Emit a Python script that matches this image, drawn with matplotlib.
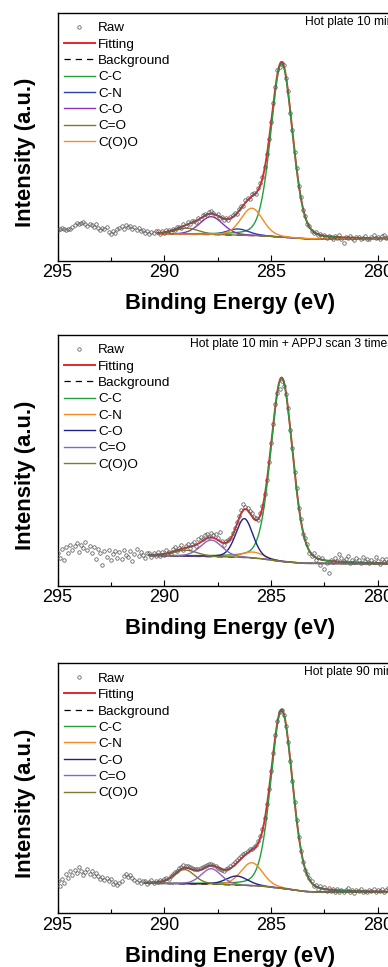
import numpy as np
import matplotlib
matplotlib.use('Agg')
import matplotlib.pyplot as plt
from matplotlib.ticker import MultipleLocator

plt.rcParams['font.family'] = ['Liberation Sans', 'DejaVu Sans']

# binding energy grid of the raw spectra, 295.0 ... 279.5 eV in 0.1 eV steps
energy = np.round(np.arange(2950, 2794, -1) / 10, 1)

# raw intensities (a.u.)
raw1 = [12.6, 12.9, 13.2, 12.7, 12.4, 13.0, 12.8, 13.9, 14.6, 15.2,
        14.8, 15.4, 15.6, 15.1, 14.3, 15.0, 14.6, 13.8, 14.9, 13.5,
        12.6, 13.4, 12.9, 13.7, 11.6, 10.9, 12.2, 11.4, 12.8, 13.5,
        14.2, 13.1, 14.6, 13.9, 14.1, 12.8, 13.6, 12.5, 13.3, 11.9,
        12.4, 11.3, 12.2, 11.0, 11.8, 11.3, 12.0,
        11.9, 11.0, 12.1, 11.2, 12.3, 12.6, 11.7, 13.0, 12.5, 13.8,
        13.9, 13.2, 14.9, 14.2, 15.6, 14.8, 16.1, 16.3, 15.8, 17.3,
        17.0, 18.4, 18.9, 18.5, 19.8, 20.3, 19.4, 18.2, 18.9, 17.4,
        17.9, 16.6, 17.2, 16.4, 17.8, 18.6, 19.2, 19.0, 21.1, 22.0,
        22.1, 24.5, 25.4, 25.0, 26.9, 27.6, 27.1, 29.6, 31.4, 34.0,
        37.8, 43.3, 49.0, 56.2, 63.5, 70.1, 76.9, 78.3, 80.0, 78.9,
        73.6, 68.5, 59.8, 52.9, 44.0, 37.6, 30.2, 25.8, 20.6, 18.2,
        15.0, 14.3, 12.1, 11.4, 11.6, 10.3, 10.9, 9.8, 10.6, 9.4,
        10.2, 9.6, 9.0, 10.1, 9.3, 10.4, 9.0, 7.1, 9.8, 9.1,
        10.2, 9.4, 8.6, 9.7, 9.8, 8.9, 9.3, 10.1, 9.0, 8.7,
        9.5, 10.4, 9.2, 9.6, 8.8, 9.9, 10.5, 9.3, 9.7]

raw2 = [13.1, 11.2, 14.6, 10.4, 15.3, 13.0, 16.2, 14.1, 15.8, 17.0,
        13.6, 16.4, 15.1, 17.3, 14.4, 16.0, 13.2, 15.5, 10.8, 14.7,
        12.9, 8.3, 13.8, 11.6, 14.4, 10.1, 12.7, 14.0, 11.2, 13.3,
        10.6, 14.2, 12.1, 11.5, 13.7, 9.8, 12.8, 14.5, 11.9, 13.4,
        12.2, 10.9, 12.9,
        13.0, 11.4, 12.9, 12.0, 13.5, 11.8, 13.6, 12.3, 14.1, 13.5,
        12.6, 14.8, 15.6, 13.7, 15.2, 16.1, 14.3, 15.9, 16.8, 14.9,
        16.5, 17.4, 15.8, 18.6, 19.5, 18.8, 20.1, 20.5, 19.6, 21.0,
        20.2, 20.7, 19.1, 21.4, 17.9, 16.4, 17.7, 18.3, 19.2, 21.0,
        23.1, 25.6, 27.9, 30.3, 32.6, 31.5, 30.8, 29.7, 28.9, 27.5,
        27.0, 26.1, 28.9, 31.8, 36.5, 42.3, 49.2, 57.0, 64.5, 72.6,
        76.8, 78.6, 81.7, 79.5, 76.3, 70.9, 62.0, 54.8, 45.2, 38.9,
        30.8, 26.6, 20.7, 18.9, 16.8, 13.1, 11.8, 12.9, 10.4, 11.6,
        8.1, 10.9, 6.6, 9.2, 5.2, 10.3, 9.4, 11.1, 10.0, 12.6,
        11.2, 9.8, 10.7, 11.8, 9.1, 10.4, 9.6, 11.0, 10.3, 9.0,
        11.5, 9.7, 10.6, 8.9, 10.2, 9.4, 11.3, 9.9, 8.7, 10.5,
        9.3, 10.8, 9.6]

raw3 = [12.8, 11.0, 13.9, 12.2, 15.6, 14.1, 16.8, 15.2, 17.4, 16.1,
        18.5, 17.0, 15.4, 16.6, 17.7, 15.9, 16.9, 14.8, 16.2, 15.0,
        13.6, 14.7, 13.3, 14.2, 12.9, 13.8, 11.9, 12.6, 11.4, 12.3,
        13.1, 14.9, 15.7, 14.4, 15.3, 14.0, 13.5, 12.6, 13.4, 12.1,
        12.8,
        12.9, 11.8, 12.6, 13.2, 12.1, 13.0, 12.4, 13.3, 12.9, 13.7,
        14.1, 13.6, 15.0, 15.8, 16.5, 17.1, 18.0, 18.6, 19.2, 18.8,
        19.0, 18.4, 18.1, 17.9, 17.6, 17.9, 18.3, 18.6, 19.1, 19.4,
        19.6, 19.9, 19.3, 19.0, 18.1, 17.6, 17.2, 17.0, 17.6, 18.2,
        18.9, 19.7, 20.6, 21.5, 22.3, 22.8, 23.9, 24.3, 25.1, 25.6,
        25.9, 26.4, 27.3, 28.8, 31.0, 33.9, 38.1, 43.6, 49.8, 56.9,
        64.3, 71.2, 76.9, 80.6, 81.2, 79.4, 75.1, 68.7, 60.9, 52.8,
        44.6, 37.2, 30.5, 25.0, 20.7, 17.4, 15.6, 14.1, 12.9, 10.8,
        11.4, 9.9, 10.8, 9.4, 10.5, 9.1, 10.2, 9.0, 9.9, 8.7,
        9.8, 8.6, 9.5, 8.4, 9.3, 10.1, 8.5, 9.2, 8.3, 9.4,
        8.9, 9.6, 8.4, 9.1, 8.6, 9.3, 8.8, 9.7, 8.5, 9.2,
        8.9, 9.6, 8.7, 9.4, 10.1]

# fitted components: centre (eV), height above background, FWHM (eV)
labels1 = ['C-C', 'C-N', 'C-O', 'C=O', 'C(O)O']
colors1 = ['#23a03a', '#2c3fb0', '#8e2fc0', '#7c7a2e', '#f58a1f']
centers1 = [284.5, 286.55, 287.8, 288.95, 285.9]
heights1 = [70, 2.5, 7.2, 2.5, 11]
widths1 = [1.2, 1.2, 1.3, 1.3, 1.2]
bg_e1 = [290.3, 288.0, 286.5, 285.5, 284.5, 283.5, 283.0, 278.8]
bg_i1 = [10.8, 10.7, 10.4, 10.2, 9.6, 9.0, 8.9, 8.8]

labels2 = ['C-C', 'C-N', 'C-O', 'C=O', 'C(O)O']
colors2 = ['#23a03a', '#f58a1f', '#20208a', '#8a63cc', '#7c7a2e']
centers2 = [284.5, 285.85, 286.25, 287.8, 289.0]
heights2 = [73, 2.4, 15.5, 6.6, 2.4]
widths2 = [1.2, 1.2, 0.95, 1.2, 1.3]
bg_e2 = [290.7, 287.8, 286.3, 285.5, 284.5, 283.5, 278.8]
bg_i2 = [12.0, 11.6, 11.3, 10.8, 9.6, 8.9, 8.7]

labels3 = ['C-C', 'C-N', 'C-O', 'C=O', 'C(O)O']
colors3 = ['#23a03a', '#f58a1f', '#20208a', '#8a63cc', '#7c7a2e']
centers3 = [284.5, 285.9, 286.6, 287.8, 289.05]
heights3 = [71, 9.2, 3.6, 6.2, 5.7]
widths3 = [1.2, 1.2, 1.2, 1.1, 1.1]
bg_e3 = [290.9, 288.0, 286.5, 285.5, 284.5, 283.5, 283.0, 278.8]
bg_i3 = [12.0, 11.7, 11.3, 10.9, 10.0, 8.8, 8.5, 8.4]

titles = ['Hot plate 10 min', 'Hot plate 10 min + APPJ scan 3 times', 'Hot plate 90 min']

for r in (raw1, raw2, raw3):
    if len(r) != len(energy):
        raise ValueError('raw length %d != %d' % (len(r), len(energy)))


def peak(x, c, h, w, m=0.2):
    # pseudo-Voigt line shape (20 % Lorentzian)
    r2 = ((x - c) / w) ** 2
    return h * ((1 - m) * np.exp(-4 * np.log(2) * r2) + m / (1 + 4 * r2))


fig = plt.figure(figsize=(3.88, 9.67), dpi=100)
boxes = [[0.1482, 0.7301, 0.8915, 0.2565],
         [0.1482, 0.3943, 0.8915, 0.2593],
         [0.1482, 0.0555, 0.8915, 0.2585]]

panels = [(raw1, labels1, colors1, centers1, heights1, widths1, bg_e1, bg_i1),
          (raw2, labels2, colors2, centers2, heights2, widths2, bg_e2, bg_i2),
          (raw3, labels3, colors3, centers3, heights3, widths3, bg_e3, bg_i3)]

for box, title, (raw, labels, colors, cs, hs, ws, bge, bgi) in zip(boxes, titles, panels):
    ax = fig.add_axes(box)
    x = np.linspace(bge[0], bge[-1], 600)
    bg = np.interp(x, bge[::-1], bgi[::-1])
    fit = bg.copy()
    for c, h, w in zip(cs, hs, ws):
        fit += peak(x, c, h, w)

    ax.plot(energy, raw, 'o', mfc='none', mec='#5a5a5a', ms=2.5, mew=0.55,
            ls='none', label='Raw', zorder=4)
    ax.plot(x, fit, color='#e8262b', lw=1.4, label='Fitting', zorder=2)
    ax.plot(x, bg, color='k', ls=(0, (5, 4)), lw=0.9, label='Background', zorder=2.2)
    for lab, col, c, h, w in zip(labels, colors, cs, hs, ws):
        ax.plot(x, bg + peak(x, c, h, w), color=col, lw=1.0, label=lab, zorder=2.5)

    ax.set_xlim(295, 278.8)
    ax.set_ylim(0, 100)
    ax.set_yticks([])
    ax.set_xticks([295, 290, 285, 280])
    ax.xaxis.set_minor_locator(MultipleLocator(2.5))
    ax.tick_params(axis='x', which='major', direction='in', length=4, width=0.8,
                   labelsize=13, pad=2.5)
    ax.tick_params(axis='x', which='minor', direction='in', length=3, width=0.8)
    for s in ax.spines.values():
        s.set_linewidth(1.0)

    ax.set_xlabel('Binding Energy (eV)', fontsize=15.8, fontweight='bold')
    ax.xaxis.set_label_coords(0.5, -0.129)
    ax.set_ylabel('Intensity (a.u.)', fontsize=15.8, fontweight='bold')
    ax.yaxis.set_label_coords(-0.063, 0.44)

    ax.text(279.29, 96.5, title, ha='right', va='center', fontsize=8.7)
    ax.legend(loc='upper left', bbox_to_anchor=(0, 0.988), borderaxespad=0,
              borderpad=0.45, frameon=False, fontsize=9.7, handlelength=2.35,
              handletextpad=0.2, labelspacing=0.29, numpoints=1)

fig.savefig('out.png', dpi=100)
